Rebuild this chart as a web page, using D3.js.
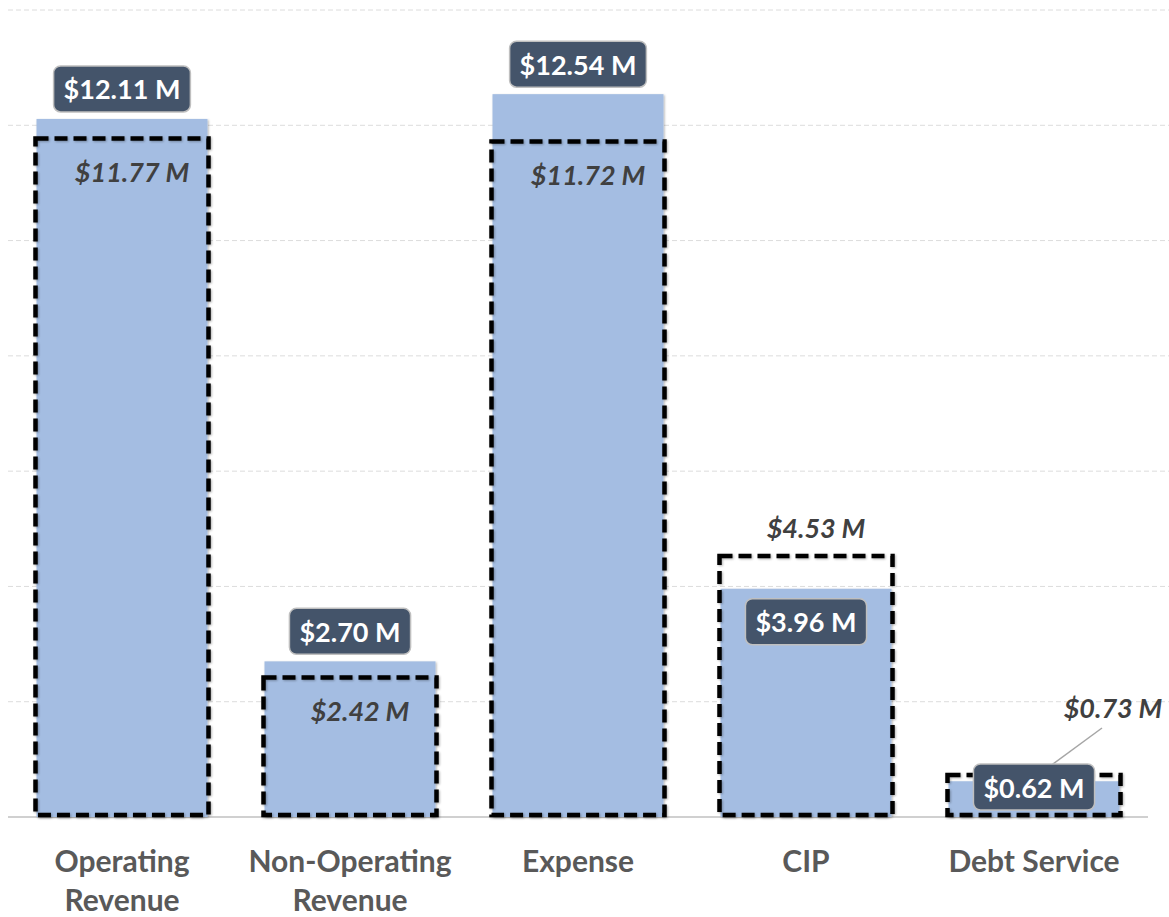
<!DOCTYPE html>
<html>
<head>
<meta charset="utf-8">
<script src="https://cdn.jsdelivr.net/npm/d3@7"></script>
<style>
  body { margin: 0; background: #fff; }
  svg { display: block; font-family: Lato, "Open Sans", sans-serif; }
</style>
</head>
<body>
<script>
const categories = ["Operating Revenue", "Non-Operating Revenue", "Expense", "CIP", "Debt Service"];
const categoryLines = [["Operating", "Revenue"], ["Non-Operating", "Revenue"], ["Expense"], ["CIP"], ["Debt Service"]];
const actual = [12.11, 2.70, 12.54, 3.96, 0.62];
const budget = [11.77, 2.42, 11.72, 4.53, 0.73];
const gridTicks = [2, 4, 6, 8, 10, 12, 14];

const w = 1169, h = 917;
const baseY = 817, topY = 10;
const left = 8, right = 1148;

const fmt = v => `$${v.toFixed(2)} M`;

const x = d3.scaleBand().domain(categories).range([left, right])
    .paddingInner(0.25).paddingOuter(0.125);
const y = d3.scaleLinear().domain([0, 14]).range([baseY, topY]);

const svg = d3.select("body").append("svg").attr("width", w).attr("height", h);

// soft shadow
const defs = svg.append("defs");
const f = defs.append("filter").attr("id", "sh").attr("x", "-10%").attr("y", "-10%").attr("width", "120%").attr("height", "120%");
f.append("feDropShadow").attr("dx", 1).attr("dy", 1).attr("stdDeviation", 1.2).attr("flood-color", "#000").attr("flood-opacity", 0.3);

// gridlines
svg.append("g").selectAll("line").data(gridTicks).enter().append("line")
    .attr("x1", left).attr("x2", w)
    .attr("y1", d => y(d)).attr("y2", d => y(d))
    .attr("stroke", "#dcdcdc").attr("stroke-width", 1).attr("stroke-dasharray", "5 3");

// baseline
svg.append("line").attr("x1", left).attr("x2", right).attr("y1", baseY).attr("y2", baseY)
    .attr("stroke", "#d0d0d0").attr("stroke-width", 2);

const rows = categories.map((c, i) => ({ c, a: actual[i], b: budget[i], i }));

// actual bars
svg.append("g").selectAll("rect").data(rows).enter().append("rect")
    .attr("x", d => x(d.c)).attr("width", x.bandwidth())
    .attr("y", d => y(d.a)).attr("height", d => baseY - y(d.a))
    .attr("fill", "#a4bde2").attr("filter", "url(#sh)");

// budget dashed outline
svg.append("g").selectAll("rect").data(rows).enter().append("rect")
    .attr("x", d => x(d.c) - 1).attr("width", x.bandwidth() + 2)
    .attr("y", d => y(d.b)).attr("height", d => baseY - y(d.b) - 2)
    .attr("fill", "none").attr("stroke", "#000").attr("stroke-width", 4.5)
    .attr("stroke-dasharray", "13 6").attr("filter", "url(#sh)");

// budget labels
const cx = d => x(d.c) + x.bandwidth() / 2;
svg.append("g").selectAll("text").data(rows).enter().append("text")
    .attr("x", d => d.b >= d.a ? cx(d) + (d.i === 4 ? 79 : 10) : cx(d) + 10)
    .attr("y", d => d.i === 4 ? 707 : (d.b >= d.a ? y(d.b) - 28 : y(d.b) + 33))
    .attr("text-anchor", "middle").attr("dominant-baseline", "central")
    .attr("font-size", 27).attr("font-weight", "bold").attr("font-style", "italic")
    .attr("fill", "#404040")
    .text(d => fmt(d.b));

// leader line for debt service budget label
svg.append("line")
    .attr("x1", cx(rows[4]) + 68).attr("y1", 728)
    .attr("x2", cx(rows[4]) + 4).attr("y2", 775)
    .attr("stroke", "#a6a6a6").attr("stroke-width", 1.5);

// actual labels in boxes
const boxH = 46;
const boxY = d => d.a >= d.b ? y(d.a) - 7 - boxH / 2 : Math.min(y(d.a) + 33, baseY - 30);
const lab = svg.append("g").selectAll("g").data(rows).enter().append("g")
    .attr("transform", d => `translate(${cx(d)},${boxY(d)})`);
lab.append("rect")
    .attr("y", -boxH / 2).attr("height", boxH)
    .attr("rx", 7).attr("fill", "#44546a").attr("stroke", "#bfbfbf").attr("stroke-width", 1.5);
lab.append("text")
    .attr("text-anchor", "middle").attr("dominant-baseline", "central")
    .attr("font-size", 27).attr("font-weight", "bold").attr("fill", "#fff")
    .text(d => fmt(d.a));
lab.select("rect").each(function () {
    const tw = this.parentNode.querySelector("text").getComputedTextLength();
    d3.select(this).attr("x", -(tw / 2 + 10)).attr("width", tw + 20);
});

// category labels
const cat = svg.append("g").selectAll("text").data(rows).enter().append("text")
    .attr("x", d => cx(d)).attr("text-anchor", "middle")
    .attr("font-size", 30).attr("font-weight", "bold").attr("fill", "#595959");
cat.selectAll("tspan").data(d => categoryLines[d.i]).enter().append("tspan")
    .attr("x", function () { return d3.select(this.parentNode).attr("x"); })
    .attr("y", (d, j) => 872 + j * 39)
    .text(d => d);
</script>
</body>
</html>
